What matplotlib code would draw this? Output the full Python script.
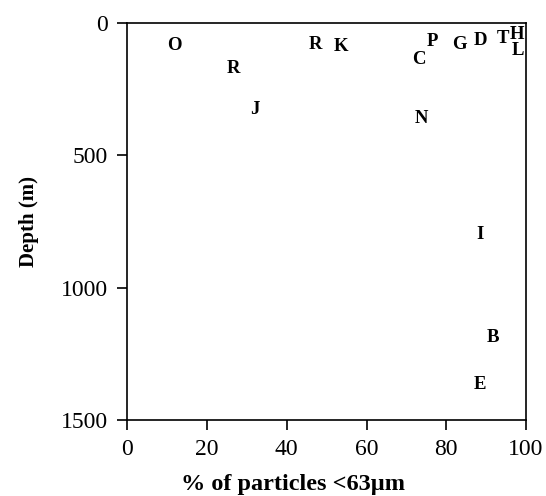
import matplotlib.pyplot as plt

plt.rcParams['font.family'] = ['Liberation Serif', 'DejaVu Serif']

# station letters, % fines and depth
labels = ['O', 'R', 'R', 'K', 'C', 'P', 'G', 'D', 'T', 'H', 'L', 'J', 'N', 'I', 'B', 'E']
fines = [11.7, 26.6, 47.1, 53.5, 73.2, 76.5, 83.2, 88.5, 94.3, 97.8, 97.9, 32.0, 73.8, 88.5, 91.6, 88.5]
depth = [86, 170, 79, 88, 139, 70, 82, 67, 57, 44, 102, 328, 360, 800, 1188, 1367]

x_ticks = [0, 20, 40, 60, 80, 100]
y_ticks = [0, 500, 1000, 1500]

fig = plt.figure(figsize=(5.46, 4.96), dpi=100)
ax = fig.add_axes([0.2332, 0.1532, 0.7302, 0.8000])

for lab, x, y in zip(labels, fines, depth):
    ax.text(x, y, lab, ha='center', va='center', fontsize=13.5, fontweight='bold')

ax.set_xlim(0, 100)
ax.set_ylim(1500, 0)
ax.set_xticks(x_ticks)
ax.set_yticks(y_ticks)
ax.tick_params(direction='out', length=7, width=1.2, labelsize=17)
ax.tick_params(axis='x', pad=7)
ax.tick_params(axis='y', pad=7)
for s in ax.spines.values():
    s.set_linewidth(1.2)

ax.set_xlabel('% of particles <63µm', fontsize=17.5, fontweight='bold')
ax.xaxis.set_label_coords(0.416, -0.135)
ax.set_ylabel('Depth (m)', fontsize=15, fontweight='bold')
ax.yaxis.set_label_coords(-0.222, 0.5)

fig.savefig('out.png', dpi=100)
